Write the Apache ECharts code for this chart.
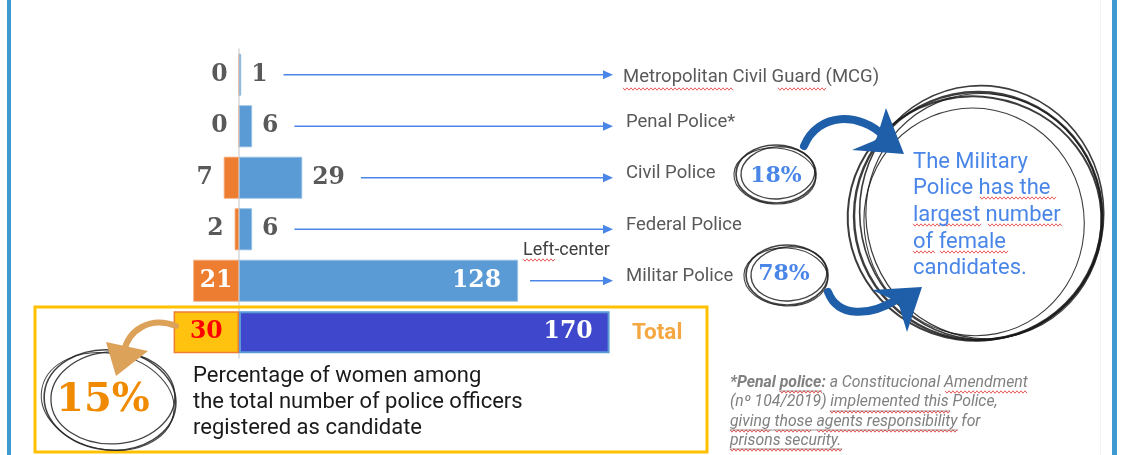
<!DOCTYPE html>
<html><head><meta charset="utf-8">
<script src="https://cdn.jsdelivr.net/npm/echarts@6/dist/echarts.min.js"></script>
<style>html,body{margin:0;padding:0;background:#fff;}#c{width:1126px;height:455px;}</style>
</head><body><div id="c"></div>
<script>
const categories = ['Metropolitan Civil Guard (MCG)', 'Penal Police*', 'Civil Police', 'Federal Police', 'Militar Police', 'Total'];
const women = [0, 0, 7, 2, 21, 30];
const men = [1, 6, 29, 6, 128, 170];
const insideRows = ['Militar Police', 'Total'];
const noteLines = ['Percentage of women among', 'the total number of police officers', 'registered as candidate'];
const calloutLines = ['The Military', 'Police has the', 'largest number', 'of female', 'candidates.'];
const footLines = ['{b|*Penal police:} a Constitucional Amendment', '(nº 104/2019) implemented this Police,', 'giving those agents responsibility for', 'prisons security.'];

const numFont = '"DejaVu Serif", serif';
const numSize = 23.5;
const chart = echarts.init(document.getElementById('c'));

const womenData = women.map((v, i) => {
  const cat = categories[i];
  const inside = insideRows.includes(cat);
  const isTotal = cat === 'Total';
  return {
    value: -v,
    itemStyle: isTotal ? {color: '#FFC20E', borderColor: '#ED7D31', borderWidth: 1.5} : {color: '#ED7D31', borderColor: '#F4B183', borderWidth: 0.8},
    label: inside ? {position: 'inside', color: isTotal ? '#FF0000' : '#FFFFFF'} : {position: 'left', distance: 11}
  };
});
const menData = men.map((v, i) => {
  const cat = categories[i];
  const inside = insideRows.includes(cat);
  const isTotal = cat === 'Total';
  return {
    value: v,
    itemStyle: isTotal ? {color: '#3F48CC', borderColor: '#5B9BD5', borderWidth: 2} : {color: '#5B9BD5', borderColor: '#9CC3E5', borderWidth: 0.8},
    label: inside ? {position: 'insideRight', distance: 17, color: '#FFFFFF'} : {position: 'right', distance: 10}
  };
});

const labelBase = {show: true, fontFamily: numFont, fontWeight: 'bold', fontSize: numSize, color: '#595959',
  formatter: p => Math.abs(p.value)};

chart.setOption({
  animation: false,
  grid: {left: 21, top: 49, width: 592, height: 309},
  xAxis: {type: 'value', min: -100, max: 171.56, show: false},
  yAxis: [
    {type: 'category', data: categories, inverse: true,
     axisLine: {show: true, onZero: true, lineStyle: {color: '#D9D9D9', width: 1.5}},
     axisTick: {show: false}, axisLabel: {show: false}, splitLine: {show: false}},
    {type: 'category', data: categories, inverse: true, position: 'right',
     axisLine: {show: false, onZero: false}, axisTick: {show: false}, splitLine: {show: false},
     axisLabel: {margin: 10, color: '#595959', fontSize: 18.5, fontFamily: 'Roboto',
       formatter: (v, i) => v === 'Total' ? '{t|' + v + '}' : (i === 0 ? '{f|' + v + '}' : '{n|' + v + '}'),
       rich: {
         t: {color: '#F4A742', fontWeight: 'bold', fontSize: 22.5, fontFamily: 'Roboto', padding: [2, 0, 0, 9]},
         f: {color: '#595959', fontSize: 18.5, fontFamily: 'Roboto', padding: [6, 0, 0, 0]},
         n: {color: '#595959', fontSize: 18.5, fontFamily: 'Roboto', padding: [0, 0, 8, 3]}
       }}}
  ],
  series: [
    {name: 'Women', type: 'bar', data: womenData, barWidth: 42, barGap: '-100%', label: labelBase},
    {name: 'Men', type: 'bar', data: menData, barWidth: 42, barGap: '-100%', label: labelBase}
  ]
});

// measurement helper
const mctx = document.createElement('canvas').getContext('2d');
function tw(text, font) { mctx.font = font; return mctx.measureText(text).width; }

const g = [];
// frame lines
g.push({type: 'rect', shape: {x: 7, y: 0, width: 4, height: 455}, style: {fill: '#3D9BD1'}, z: 1});
g.push({type: 'rect', shape: {x: 1112, y: 0, width: 5, height: 455}, style: {fill: '#3D9BD1'}, z: 1});
g.push({type: 'rect', shape: {x: 1100, y: 0, width: 1, height: 455}, style: {fill: '#F2F2F2'}, z: 0});

// arrows from value labels to category labels
const arrowEnd = 613;
categories.forEach((cat, i) => {
  if (cat === 'Total') return;
  const y = chart.convertToPixel({yAxisIndex: 0}, cat);
  const xEnd = chart.convertToPixel({xAxisIndex: 0}, men[i]);
  let start;
  if (insideRows.includes(cat)) start = xEnd + 12;
  else start = xEnd + 10 + tw(String(men[i]), 'bold ' + numSize + 'px ' + numFont) + 16;
  g.push({type: 'line', shape: {x1: start, y1: y, x2: arrowEnd - 8, y2: y}, style: {stroke: '#4A86E8', lineWidth: 1.3}});
  g.push({type: 'polygon', shape: {points: [[arrowEnd - 10, y - 4.5], [arrowEnd, y], [arrowEnd - 10, y + 4.5]]}, style: {fill: '#4A86E8'}});
});

// squiggle helper (spell-check underline)
function squiggle(x1, x2, y) {
  const pts = [];
  for (let x = x1, k = 0; x <= x2; x += 2, k++) pts.push([x, y + (k % 2 ? 1.2 : -1.2)]);
  g.push({type: 'polyline', shape: {points: pts}, style: {stroke: '#E03030', lineWidth: 0.8, fill: null}, z: 5});
}
function uline(x1, x2, y) {
  g.push({type: 'line', shape: {x1: x1, y1: y, x2: x2, y2: y}, style: {stroke: '#8C8C8C', lineWidth: 0.9}, z: 5});
}

// Left-center text
g.push({type: 'text', style: {x: 523, y: 250, text: 'Left-center', fill: '#404040', font: '18px Roboto', textVerticalAlign: 'middle'}});
squiggle(523, 556, 260);
squiggle(623, 733, 89);
squiggle(778, 827, 89);

// sketchy ellipses
function sketch(cx, cy, rx, ry, variants, color, w) {
  variants.forEach(v => {
    g.push({type: 'ellipse', shape: {cx: cx + v[0], cy: cy + v[1], rx: rx + v[2], ry: ry + v[3]},
      rotation: v[4], originX: cx, originY: cy,
      style: {fill: null, stroke: color, lineWidth: w + (v[5] || 0), opacity: 0.85}, z: 4});
  });
}
sketch(978, 216, 124, 124, [[0, 0, 0, 0, 0, 0.8], [4, -3, -2, 3, 0.1, 0], [-3, 3, 3, -2, -0.15, 0.4], [6, 2, -6, -1, 0.3, -0.4], [-5, 5, -14, -10, 0.2, -0.5]], '#1A1A1A', 1.6);
sketch(776, 174, 40, 29, [[0, 0, 0, 0, 0, 0.3], [2, -1, -3, -3, 0.08, 0], [-1, 2, 1, -1, -0.06, -0.3]], '#222222', 1.4);
sketch(787, 275, 41, 30, [[0, 0, 0, 0, 0, 0.3], [2, -1, -3, -3, 0.08, 0], [-1, 2, 1, -1, -0.06, -0.3]], '#222222', 1.4);
sketch(110, 400, 66, 50, [[0, 0, 0, 0, -0.1, 0.3], [3, -2, -4, -4, 0.05, 0], [-2, 2, 1, -2, -0.2, -0.3]], '#222222', 1.3);

// percentages
g.push({type: 'text', style: {x: 776, y: 176, text: '18%', fill: '#4A86E8', font: 'bold 22px ' + numFont, textAlign: 'center', textVerticalAlign: 'middle'}, z: 6});
g.push({type: 'text', style: {x: 784, y: 274, text: '78%', fill: '#4A86E8', font: 'bold 22px ' + numFont, textAlign: 'center', textVerticalAlign: 'middle'}, z: 6});
g.push({type: 'text', style: {x: 103, y: 401, text: '15%', fill: '#F08A00', font: 'bold 40px ' + numFont, textAlign: 'center', textVerticalAlign: 'middle'}, z: 6});

// thick blue arrows
g.push({type: 'bezierCurve', shape: {x1: 804, y1: 146, cpx1: 818, cpy1: 112, cpx2: 860, cpy2: 112, x2: 884, y2: 136}, style: {stroke: '#1F5EA8', lineWidth: 8, fill: null, lineCap: 'round'}, z: 5});
g.push({type: 'polygon', shape: {points: [[886, 108], [904, 154], [852, 150], [876, 140]]}, style: {fill: '#1F5EA8'}, z: 5});
g.push({type: 'bezierCurve', shape: {x1: 828, y1: 292, cpx1: 838, cpy1: 318, cpx2: 870, cpy2: 316, x2: 896, y2: 300}, style: {stroke: '#1F5EA8', lineWidth: 8, fill: null, lineCap: 'round'}, z: 5});
g.push({type: 'polygon', shape: {points: [[872, 290], [922, 287], [907, 332], [898, 302]]}, style: {fill: '#1F5EA8'}, z: 5});

// tan arrow
g.push({type: 'bezierCurve', shape: {x1: 176, y1: 326, cpx1: 150, cpy1: 316, cpx2: 128, cpy2: 330, x2: 124, y2: 352}, style: {stroke: '#DDA25A', lineWidth: 6, fill: null, lineCap: 'round'}, z: 7});
g.push({type: 'polygon', shape: {points: [[106, 342], [148, 351], [116, 376]]}, style: {fill: '#DDA25A'}, z: 7});

// callout text
calloutLines.forEach((t, i) => {
  g.push({type: 'text', style: {x: 913, y: 162 + i * 26.7, text: t, fill: '#4A86E8', font: '22px Roboto', textVerticalAlign: 'middle'}, z: 6});
});
squiggle(980, 1057, 198); squiggle(913, 982, 225); squiggle(988, 1063, 225); squiggle(913, 935, 252); squiggle(940, 1008, 252);

// yellow box
g.push({type: 'rect', shape: {x: 35, y: 307, width: 672, height: 145}, style: {fill: null, stroke: '#FFC000', lineWidth: 3}, z: 3});
noteLines.forEach((t, i) => {
  g.push({type: 'text', style: {x: 193, y: 376 + i * 26, text: t, fill: '#1A1A1A', font: '22px Roboto', textVerticalAlign: 'middle'}, z: 6});
});

// footnote
footLines.forEach((t, i) => {
  g.push({type: 'text', style: {x: 730, y: 383 + i * 19.5, text: t, fill: '#808080', font: 'italic 15.8px Roboto', textVerticalAlign: 'middle',
    rich: {b: {fontWeight: 'bold', fontStyle: 'italic', fontSize: 15.8, fontFamily: 'Roboto', fill: '#808080', color: '#808080'}}}, z: 6});
});
uline(779, 822, 391); uline(830, 950, 411); uline(730, 958, 430); uline(730, 842, 449);
squiggle(780, 822, 392); squiggle(945, 1028, 392); squiggle(830, 950, 412); squiggle(730, 770, 431); squiggle(775, 812, 431); squiggle(817, 958, 431); squiggle(730, 842, 450);

chart.setOption({graphic: {elements: g}});
</script></body></html>
